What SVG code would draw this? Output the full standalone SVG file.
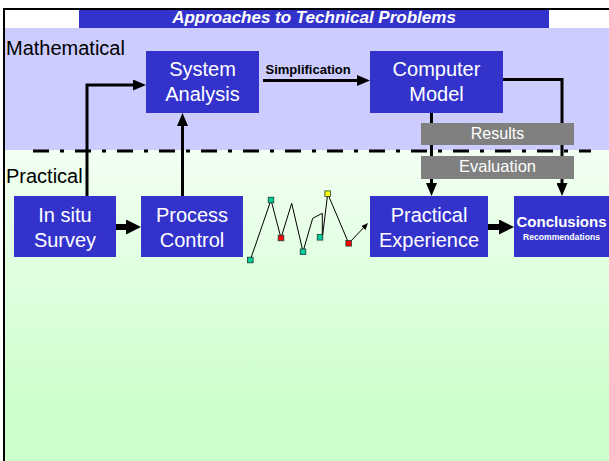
<svg xmlns="http://www.w3.org/2000/svg" width="609" height="461" viewBox="0 0 609 461">
<defs>
<style>
.box{fill:#3333CC}
.gbox{fill:#808080}
.t{font-family:"Liberation Sans",Arial,sans-serif;fill:#FFFFFF;text-anchor:middle}
.big{font-size:20px}
.lbl{font-family:"Liberation Sans",Arial,sans-serif;fill:#000000;font-size:20px}
.ln{fill:none;stroke:#000000;stroke-width:3}
.thick{fill:none;stroke:#000000;stroke-width:6}
.mk{stroke:#1f3d33;stroke-width:0.8}
</style>
<linearGradient id="grn" x1="0" y1="0" x2="0" y2="1">
<stop offset="0" stop-color="#F2FFF2"/>
<stop offset="0.85" stop-color="#CCFFCC"/>
<stop offset="1" stop-color="#CCFFCC"/>
</linearGradient>
<marker id="ah" viewBox="0 0 13 11" refX="2" refY="5.5" markerWidth="13" markerHeight="11" markerUnits="userSpaceOnUse" orient="auto">
<path d="M0,0 L13,5.5 L0,11 z" fill="#000000"/>
</marker>
<marker id="ahb" viewBox="0 0 15 15" refX="2" refY="7.5" markerWidth="15" markerHeight="15" markerUnits="userSpaceOnUse" orient="auto">
<path d="M0,0 L15,7.5 L0,15 z" fill="#000000"/>
</marker>
<marker id="ahs" viewBox="0 0 7 6" refX="1" refY="3" markerWidth="7" markerHeight="6" markerUnits="userSpaceOnUse" orient="auto">
<path d="M0,0 L7,3 L0,6 z" fill="#000000"/>
</marker>
</defs>
<rect x="0" y="0" width="609" height="461" fill="#FFFFFF"/>
<rect x="5" y="28" width="604" height="122" fill="#CCCCFF"/>
<rect x="5" y="150" width="604" height="311" fill="url(#grn)"/>
<line x1="3" y1="9" x2="609" y2="9" stroke="#000000" stroke-width="2"/>
<line x1="4" y1="8" x2="4" y2="461" stroke="#000000" stroke-width="2"/>
<g id="title">
<rect x="79" y="10" width="470" height="18" class="box"/>
<text x="314" y="23" class="t" style="font-size:17px;font-weight:bold;font-style:italic">Approaches to Technical Problems</text>
</g>
<text x="6" y="55" class="lbl">Mathematical</text>
<text x="6" y="183" class="lbl">Practical</text>
<line x1="33" y1="151" x2="591" y2="151" stroke="#000000" stroke-width="3" stroke-dasharray="16 11 4 11"/>
<g id="connectors">
<polyline class="ln" points="87,196 87,85 135,85" marker-end="url(#ah)"/>
<line class="ln" x1="182.5" y1="196" x2="182.5" y2="124" marker-end="url(#ah)"/>
<line class="ln" x1="263" y1="80.5" x2="359" y2="80.5" marker-end="url(#ah)"/>
<line class="ln" x1="431.5" y1="113" x2="431.5" y2="185" marker-end="url(#ah)"/>
<polyline class="ln" points="503,79.5 562,79.5 562,185" marker-end="url(#ah)"/>
<line class="thick" x1="116" y1="227" x2="128" y2="227" marker-end="url(#ahb)"/>
<line class="thick" x1="488" y1="227" x2="501" y2="227" marker-end="url(#ahb)"/>
<text x="265.5" y="74" style="font-family:'Liberation Sans',Arial,sans-serif;font-size:13px;font-weight:bold;fill:#000000">Simplification</text>
</g>
<g id="chart">
<polyline fill="none" stroke="#000000" stroke-width="1" points="250.3,260 271,200 281,238 291.7,203.3 303,251.7 312.7,218.3 322.3,213.3 322.3,238 327.7,193.7 348.7,243.3 363.9,227.4" marker-end="url(#ahs)"/>
<rect class="mk" x="247.5" y="257.2" width="5.6" height="5.6" fill="#00CC99"/>
<rect class="mk" x="268.2" y="197.2" width="5.6" height="5.6" fill="#00CC99"/>
<rect class="mk" x="278.2" y="235.2" width="5.6" height="5.6" fill="#FF0000"/>
<rect class="mk" x="300.2" y="248.9" width="5.6" height="5.6" fill="#00CC99"/>
<rect class="mk" x="317.2" y="234.5" width="5.6" height="5.6" fill="#00CC99"/>
<rect class="mk" x="324.9" y="190.9" width="5.6" height="5.6" fill="#FFFF00"/>
<rect class="mk" x="345.9" y="240.5" width="5.6" height="5.6" fill="#FF0000"/>
</g>
<g id="system-analysis">
<rect x="146" y="51" width="113" height="62" class="box"/>
<text x="202.5" y="76" class="t big">System</text>
<text x="202.5" y="101" class="t big">Analysis</text>
</g>
<g id="computer-model">
<rect x="370" y="51" width="133" height="62" class="box"/>
<text x="436.5" y="76" class="t big">Computer</text>
<text x="436.5" y="101" class="t big">Model</text>
</g>
<g id="results">
<rect x="421" y="123" width="153" height="22" class="gbox"/>
<text x="497.5" y="139" class="t" style="font-size:16px">Results</text>
</g>
<g id="evaluation">
<rect x="421" y="156" width="153" height="23" class="gbox"/>
<text x="497.5" y="172" class="t" style="font-size:16.5px">Evaluation</text>
</g>
<g id="in-situ-survey">
<rect x="14" y="196" width="102" height="61" class="box"/>
<text x="65" y="221.5" class="t big">In situ</text>
<text x="65" y="246.5" class="t big">Survey</text>
</g>
<g id="process-control">
<rect x="141" y="196" width="102" height="61" class="box"/>
<text x="192" y="221.5" class="t big">Process</text>
<text x="192" y="246.5" class="t big">Control</text>
</g>
<g id="practical-experience">
<rect x="370" y="196" width="118" height="61" class="box"/>
<text x="429" y="221.5" class="t big">Practical</text>
<text x="429" y="246.5" class="t big">Experience</text>
</g>
<g id="conclusions">
<rect x="514" y="196" width="95" height="61" class="box"/>
<text x="561.5" y="227" class="t" style="font-size:15px;font-weight:bold">Conclusions</text>
<text x="561.5" y="239.5" class="t" style="font-size:8.6px;font-weight:bold">Recommendations</text>
</g>
</svg>
